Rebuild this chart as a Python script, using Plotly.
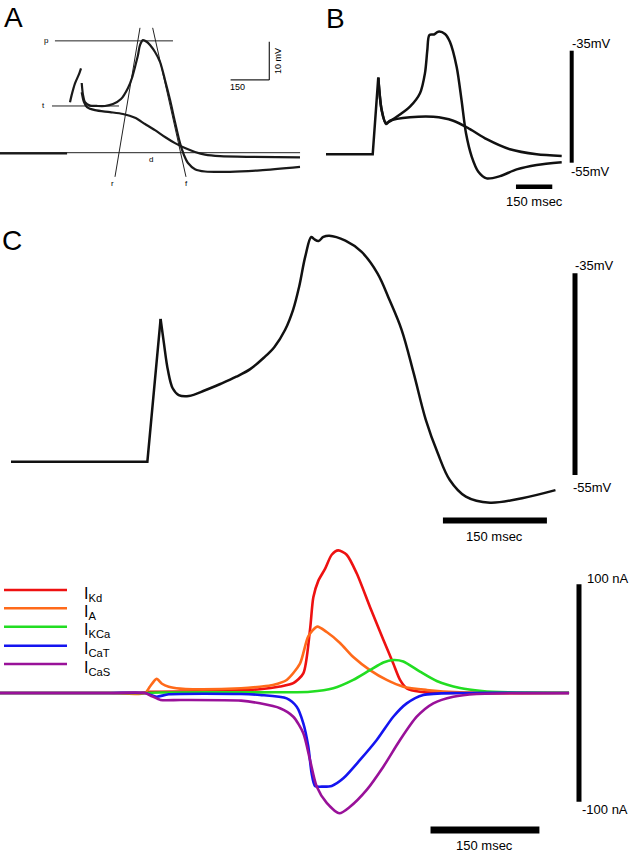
import plotly.graph_objects as go

W, H = 630, 852

# ------------------------------------------------------------------ DATA
# Panel A : digitised classic recording (time in ms, voltage in mV relative to baseline)
A_base_t = [0, 260]
A_base_v = [-0.2, -0.2]
A_spk_t = [271.3, 277.9, 290.7, 307.4, 314]
A_spk_v = [13.2, 15.1, 18.1, 20.7, 22]
A_ap_t = [316.7, 321.7, 329.5, 348.8, 374.8, 407, 438, 469, 496.1, 511.6, 523.3, 534.9, 542.6,
          554.3, 569.8, 581.4, 600.8, 620.2, 639.5, 659, 678.3, 697.7, 713, 728.7, 755.8, 794.6,
          891.5, 1007.8, 1162.8]
A_ap_v = [18.2, 15.1, 13.2, 12.3, 12.2, 12.2, 12.7, 14, 16.9, 19.5, 22.4, 25.5, 28.1,
          29.4, 28.9, 28.1, 26.3, 23.7, 19, 13.8, 8, 2.5, -0.6, -2.7, -4.3, -4.9,
          -5, -4.6, -3.7]
A_sub_t = [316.7, 325.6, 337.2, 368.2, 426.4, 476.7, 523.3, 562, 600.8, 639.5, 678.3, 717.1,
           755.8, 794.6, 852.7, 969, 1162.8]
A_sub_v = [15.8, 13.2, 11.9, 11.1, 10.6, 10.1, 9.1, 7.5, 5.9, 4.1, 2.5, 1.2,
           0.2, -0.5, -0.9, -1.1, -1.2]
# construction lines of panel A (label, t-values, v-values)
A_lines = [
    ("p", [213, 670.5], [29.2, 29.2]),
    ("t", [201.5, 461.2], [12.2, 12.2]),
    ("d", [0, 1163], [0, 0]),
    ("r", [542.6, 445.7], [32.6, -6.3]),
    ("f", [591.7, 720.9], [32.6, -6.3]),
]

# Panel B : model traces (ms, mV)
B_ap_t = [0, 193, 216, 230, 248, 292, 347, 388.4, 409, 418.7, 427, 446, 464, 491.7, 512, 540,
          560, 578.5, 602, 629.5, 664, 719, 788, 870.5, 974]
B_ap_v = [-53.5, -53.5, -39.8, -45.6, -47.9, -46.8, -45, -42.6, -39, -34.9, -32.2, -32.1, -31.6,
          -32, -33.4, -37.9, -43.8, -49.75, -53.9, -56.6, -57.8, -57.4, -56.2, -55.4, -54.9]
B_sub_t = [0, 193, 216, 230, 248, 264.5, 347, 443, 526, 595, 664, 760, 870.5, 974]
B_sub_v = [-53.5, -53.5, -39.8, -45.6, -48.1, -47.5, -46.9, -46.8, -47.5, -49, -50.8, -52.6,
           -53.5, -53.8]

# Panel C : model trace (ms, mV)
C_t = [0, 196.7, 215.8, 220.5, 226.3, 233.2, 241.9, 256.5, 280, 302.7, 325, 345, 365, 380,
       395.4, 407, 415.7, 424.4, 433, 437, 443.5, 450.5, 459.1, 482.3, 505.4, 528.6, 546, 563.4,
       580.8, 598.2, 615.6, 632.9, 656.1, 690.9, 737.2, 785.3]
C_v = [-53.68, -53.68, -39.53, -41.9, -44.6, -46.4, -47.07, -47.17, -46.6, -45.95, -45.25,
       -44.5, -43.35, -42.3, -40.6, -38.6, -36.3, -33.35, -31.4, -31.6, -31.8, -31.4, -31.27,
       -31.77, -32.86, -35, -37.65, -40.6, -44.9, -49.5, -52.85, -55.5, -57.15, -57.75, -57.3,
       -56.5]

# Currents (ms, nA)
I_names = ["Kd", "A", "KCa", "CaT", "CaS"]
I_colors = ["#ee1111", "#ff6a1a", "#22dd22", "#1414f0", "#991199"]
I_Kd_t = [0, 150, 193, 206.6, 275.5, 330.6, 358.1, 385.7, 404, 417.8, 427, 431.6, 438.4, 447.7,
          456.9, 466, 477.5, 491.3, 509.6, 528, 541.7, 551, 560.2, 578.5, 633.6, 783.8]
I_Kd_v = [0, 0, 0, 1, 1.5, 2.5, 3.5, 6, 9, 18, 58, 88, 103, 114,
          127, 131, 127, 110, 79, 49, 27, 12, 4.3, 1.2, 0, 0]
I_A_t = [0, 150, 199.7, 206.6, 215.7, 223.1, 232.4, 247.9, 265.6, 332, 358.1, 376, 394.9, 413.2,
         424.6, 437, 450, 468.3, 486.6, 509.6, 532.6, 555.5, 587.7, 633.6, 783.8]
I_A_v = [0, 0, 0, 6, 13, 8.5, 5.8, 4, 3.4, 4.3, 5.8, 7.4, 12, 27,
         52, 61, 56, 46, 33, 21, 12, 5.8, 2.8, 0.6, 0]
I_KCa_t = [0, 150, 199.7, 220.4, 358.1, 427, 459.1, 486.6, 509.6, 528, 541.7, 555.5, 578.5,
           601.5, 633.6, 663.9, 700, 783.8]
I_KCa_v = [0, 0, 0, 0.5, 0.6, 1.2, 4.3, 12, 21, 28, 30.3, 29, 19.6,
           11, 4.5, 1.8, 0.6, 0.2]
I_CaT_t = [0, 150, 199.7, 206.6, 215.7, 232.4, 332, 358.1, 394.9, 408.7, 417.8, 424.6, 429.3,
           433.9, 445.3, 456.9, 472.9, 495.9, 518.9, 541.7, 560.2, 583.1, 633.6, 783.8]
I_CaT_v = [0, 0, 0, -1.5, -3.4, -1.2, -0.9, -1.8, -4.9, -12.6, -27.8, -49, -74,
           -85.4, -86, -85.4, -78.4, -61.5, -43.2, -21.8, -9.5, -1.8, 0, 0]
I_CaS_t = [0, 150, 199.7, 209.4, 221.2, 248.9, 332, 358.1, 385.7, 404, 417.8, 427, 436.2, 450,
           467.5, 482.1, 505.1, 528, 551, 574, 596.8, 624.4, 656.6, 783.8]
I_CaS_v = [0, 0, 0, -3, -6.4, -6.4, -7, -9.5, -14, -21.8, -37, -61.5, -86, -101,
           -110.5, -104.5, -89, -67.7, -43.2, -21.8, -9.5, -3.4, -0.9, 0]
I_series = [(I_Kd_t, I_Kd_v), (I_A_t, I_A_v), (I_KCa_t, I_KCa_v), (I_CaT_t, I_CaT_v),
            (I_CaS_t, I_CaS_v)]

# scale bars
V_bar = [-55, -35]          # mV
I_bar = [-100, 100]         # nA
T_bar = 150                 # ms
A_vbar = 10                 # mV
A_tbar = 150                # ms

# ------------------------------------------------------------------ LAYOUT helpers
FONT = "Arial, 'Liberation Sans', sans-serif"
INK = "#111111"


def ranges(sx, px0, t0, sy, py0, v0):
    """axis ranges so that value t0 sits at pixel px0 (sx px/unit), v0 at pixel-row py0"""
    xr = [t0 - px0 / sx, t0 + (W - px0) / sx]
    yr = [v0 - (H - py0) / sy, v0 + py0 / sy]
    return xr, yr


panels = {
    "A": ranges(0.258, 0, 0, 3.83, 152.7, 0),
    "B": ranges(0.242, 326, 0, 5.6, 50.7, -35),
    "C": ranges(0.6933, 11, 0, 10.085, 273.3, -35),
    "I": ranges(0.726, 0, 0, 1.0885, 693, 0),
}
ax_id = {"A": "", "B": "2", "C": "3", "I": "4"}

fig = go.Figure()
layout = dict(width=W, height=H, margin=dict(l=0, r=0, t=0, b=0), autosize=False,
              paper_bgcolor="white", plot_bgcolor="rgba(0,0,0,0)", showlegend=False)
for k, (xr, yr) in panels.items():
    n = ax_id[k]
    layout["xaxis" + n] = dict(domain=[0, 1], range=xr, visible=False, fixedrange=True,
                               anchor="y" + n)
    layout["yaxis" + n] = dict(domain=[0, 1], range=yr, visible=False, fixedrange=True,
                               anchor="x" + n)
fig.update_layout(**layout)


def xa(k):
    return "x" + ax_id[k]


def ya(k):
    return "y" + ax_id[k]


def line(k, t, v, width=2.5, color=INK, shape="spline", smoothing=0.8):
    ln = dict(color=color, width=width, shape=shape)
    if shape == "spline":
        ln["smoothing"] = smoothing
    fig.add_trace(go.Scatter(x=t, y=v, mode="lines", line=ln, hoverinfo="skip",
                             xaxis=xa(k), yaxis=ya(k)))


# ------------------------------------------------------------------ Panel A
for lab, t, v in A_lines:
    line("A", t, v, width=1, color="#222222", shape="linear")
line("A", A_base_t, A_base_v, width=2.2, color="#1a1a1a", shape="linear")
line("A", A_spk_t, A_spk_v, width=2.2, color="#1a1a1a")
line("A", A_ap_t, A_ap_v, width=2.2, color="#1a1a1a")
line("A", A_sub_t, A_sub_v, width=2.2, color="#1a1a1a")

lab_pos = {"p": (A_lines[0][1][0], A_lines[0][2][0], -8, 0),
           "t": (A_lines[1][1][0], A_lines[1][2][0], -8, 0),
           "d": (584, 0, 0, -7),
           "r": (A_lines[3][1][1], A_lines[3][2][1], -2, -7),
           "f": (A_lines[4][1][1], A_lines[4][2][1], 1, -7)}
for lab, (tx, vy, dx, dy) in lab_pos.items():
    fig.add_annotation(x=tx, y=vy, xref=xa("A"), yref=ya("A"), text=lab, showarrow=False,
                       xshift=dx, yshift=dy, font=dict(family=FONT, size=8, color="black"))

# A scale bar (L shape)
A_bar_t = 1043.8
A_bar_v = 19
fig.add_shape(type="line", xref=xa("A"), yref=ya("A"), x0=A_bar_t, x1=A_bar_t,
              y0=A_bar_v, y1=A_bar_v + A_vbar, line=dict(color="#222", width=1.2))
fig.add_shape(type="line", xref=xa("A"), yref=ya("A"), x0=A_bar_t - A_tbar, x1=A_bar_t,
              y0=A_bar_v, y1=A_bar_v, line=dict(color="#222", width=1.2))
fig.add_annotation(x=A_bar_t - A_tbar, y=A_bar_v, xref=xa("A"), yref=ya("A"), text=str(A_tbar),
                   showarrow=False, xanchor="left", yshift=-7, xshift=-3,
                   font=dict(family=FONT, size=9, color="black"))
fig.add_annotation(x=A_bar_t, y=A_bar_v + A_vbar / 2, xref=xa("A"), yref=ya("A"),
                   text="%d mV" % A_vbar, textangle=-90, showarrow=False, xshift=8,
                   font=dict(family=FONT, size=9, color="black"))

# ------------------------------------------------------------------ Panel B
KB = 2  # spike-peak index
line("B", B_sub_t[:KB + 1], B_sub_v[:KB + 1], shape="linear")
line("B", B_sub_t[KB:], B_sub_v[KB:])
line("B", B_ap_t[KB:], B_ap_v[KB:])
B_vbar_t = 1015.3
B_tbar_t0 = 785
B_tbar_v = -59.3
fig.add_shape(type="line", xref=xa("B"), yref=ya("B"), x0=B_vbar_t, x1=B_vbar_t,
              y0=V_bar[0], y1=V_bar[1], line=dict(color="black", width=4))
fig.add_shape(type="line", xref=xa("B"), yref=ya("B"), x0=B_tbar_t0, x1=B_tbar_t0 + T_bar,
              y0=B_tbar_v, y1=B_tbar_v, line=dict(color="black", width=4.5))
fig.add_annotation(x=B_vbar_t, y=V_bar[1], xref=xa("B"), yref=ya("B"), text="%dmV" % V_bar[1],
                   showarrow=False, xanchor="left", xshift=-2, yshift=7,
                   font=dict(family=FONT, size=13, color="black"))
fig.add_annotation(x=B_vbar_t, y=V_bar[0], xref=xa("B"), yref=ya("B"), text="%dmV" % V_bar[0],
                   showarrow=False, xanchor="left", xshift=-3, yshift=-9,
                   font=dict(family=FONT, size=13, color="black"))
fig.add_annotation(x=B_tbar_t0 + T_bar / 2, y=B_tbar_v, xref=xa("B"), yref=ya("B"),
                   text="%d msec" % T_bar, showarrow=False, yshift=-15,
                   font=dict(family=FONT, size=13, color="black"))

# ------------------------------------------------------------------ Panel C
KC = 2
line("C", C_t[:KC + 1], C_v[:KC + 1], shape="linear")
line("C", C_t[KC:], C_v[KC:], smoothing=1)
C_vbar_t = 813.5
C_tbar_t0 = 623
C_tbar_v = -59.5
fig.add_shape(type="line", xref=xa("C"), yref=ya("C"), x0=C_vbar_t, x1=C_vbar_t,
              y0=V_bar[0], y1=V_bar[1], line=dict(color="black", width=5))
fig.add_shape(type="line", xref=xa("C"), yref=ya("C"), x0=C_tbar_t0, x1=C_tbar_t0 + T_bar,
              y0=C_tbar_v, y1=C_tbar_v, line=dict(color="black", width=6))
fig.add_annotation(x=C_vbar_t, y=V_bar[1], xref=xa("C"), yref=ya("C"), text="%dmV" % V_bar[1],
                   showarrow=False, xanchor="left", xshift=-2, yshift=8,
                   font=dict(family=FONT, size=13, color="black"))
fig.add_annotation(x=C_vbar_t, y=V_bar[0], xref=xa("C"), yref=ya("C"), text="%dmV" % V_bar[0],
                   showarrow=False, xanchor="left", xshift=-4, yshift=-12,
                   font=dict(family=FONT, size=13, color="black"))
fig.add_annotation(x=C_tbar_t0 + T_bar / 2, y=C_tbar_v, xref=xa("C"), yref=ya("C"),
                   text="%d msec" % T_bar, showarrow=False, yshift=-16,
                   font=dict(family=FONT, size=13, color="black"))

# ------------------------------------------------------------------ Currents
for (t, v), c in zip(I_series, I_colors):
    line("I", t, v, width=2.6, color=c, smoothing=0.7)
I_vbar_t = 797.5
I_tbar_t0 = 593
I_tbar_v = -125.9
fig.add_shape(type="line", xref=xa("I"), yref=ya("I"), x0=I_vbar_t, x1=I_vbar_t,
              y0=I_bar[0], y1=I_bar[1], line=dict(color="black", width=5))
fig.add_shape(type="line", xref=xa("I"), yref=ya("I"), x0=I_tbar_t0, x1=I_tbar_t0 + T_bar,
              y0=I_tbar_v, y1=I_tbar_v, line=dict(color="black", width=7))
fig.add_annotation(x=I_vbar_t, y=I_bar[1], xref=xa("I"), yref=ya("I"), text="%d nA" % I_bar[1],
                   showarrow=False, xanchor="left", xshift=6, yshift=6,
                   font=dict(family=FONT, size=13, color="black"))
fig.add_annotation(x=I_vbar_t, y=I_bar[0], xref=xa("I"), yref=ya("I"), text="%d nA" % I_bar[0],
                   showarrow=False, xanchor="left", xshift=1, yshift=-8,
                   font=dict(family=FONT, size=13, color="black"))
fig.add_annotation(x=I_tbar_t0 + T_bar / 2, y=I_tbar_v, xref=xa("I"), yref=ya("I"),
                   text="%d msec" % T_bar, showarrow=False, yshift=-15,
                   font=dict(family=FONT, size=13, color="black"))

# custom legend (pixel rows of the key)
leg_rows = [590, 608.3, 626.7, 645.7, 664]
for name, c, ry in zip(I_names, I_colors, leg_rows):
    yy = 1 - ry / H
    fig.add_shape(type="line", xref="paper", yref="paper", x0=4 / W, x1=67 / W, y0=yy, y1=yy,
                  line=dict(color=c, width=2.6))
    fig.add_annotation(x=82 / W, y=yy, xref="paper", yref="paper",
                       text="I<sub>%s</sub>" % name, showarrow=False, xanchor="left",
                       yanchor="middle", yshift=-4, font=dict(family=FONT, size=16, color="black"))

# panel letters
for lab, px, py, anc in [("A", 2, 0, "top"), ("B", 324, 1, "top"), ("C", 0, 240, "middle")]:
    fig.add_annotation(x=px / W, y=1 - py / H, xref="paper", yref="paper", text=lab,
                       showarrow=False, xanchor="left", yanchor=anc,
                       font=dict(family=FONT, size=28, color="black"))

fig.write_html("out.html", config={"displayModeBar": False},
               post_script="document.body.style.margin='0px';")
